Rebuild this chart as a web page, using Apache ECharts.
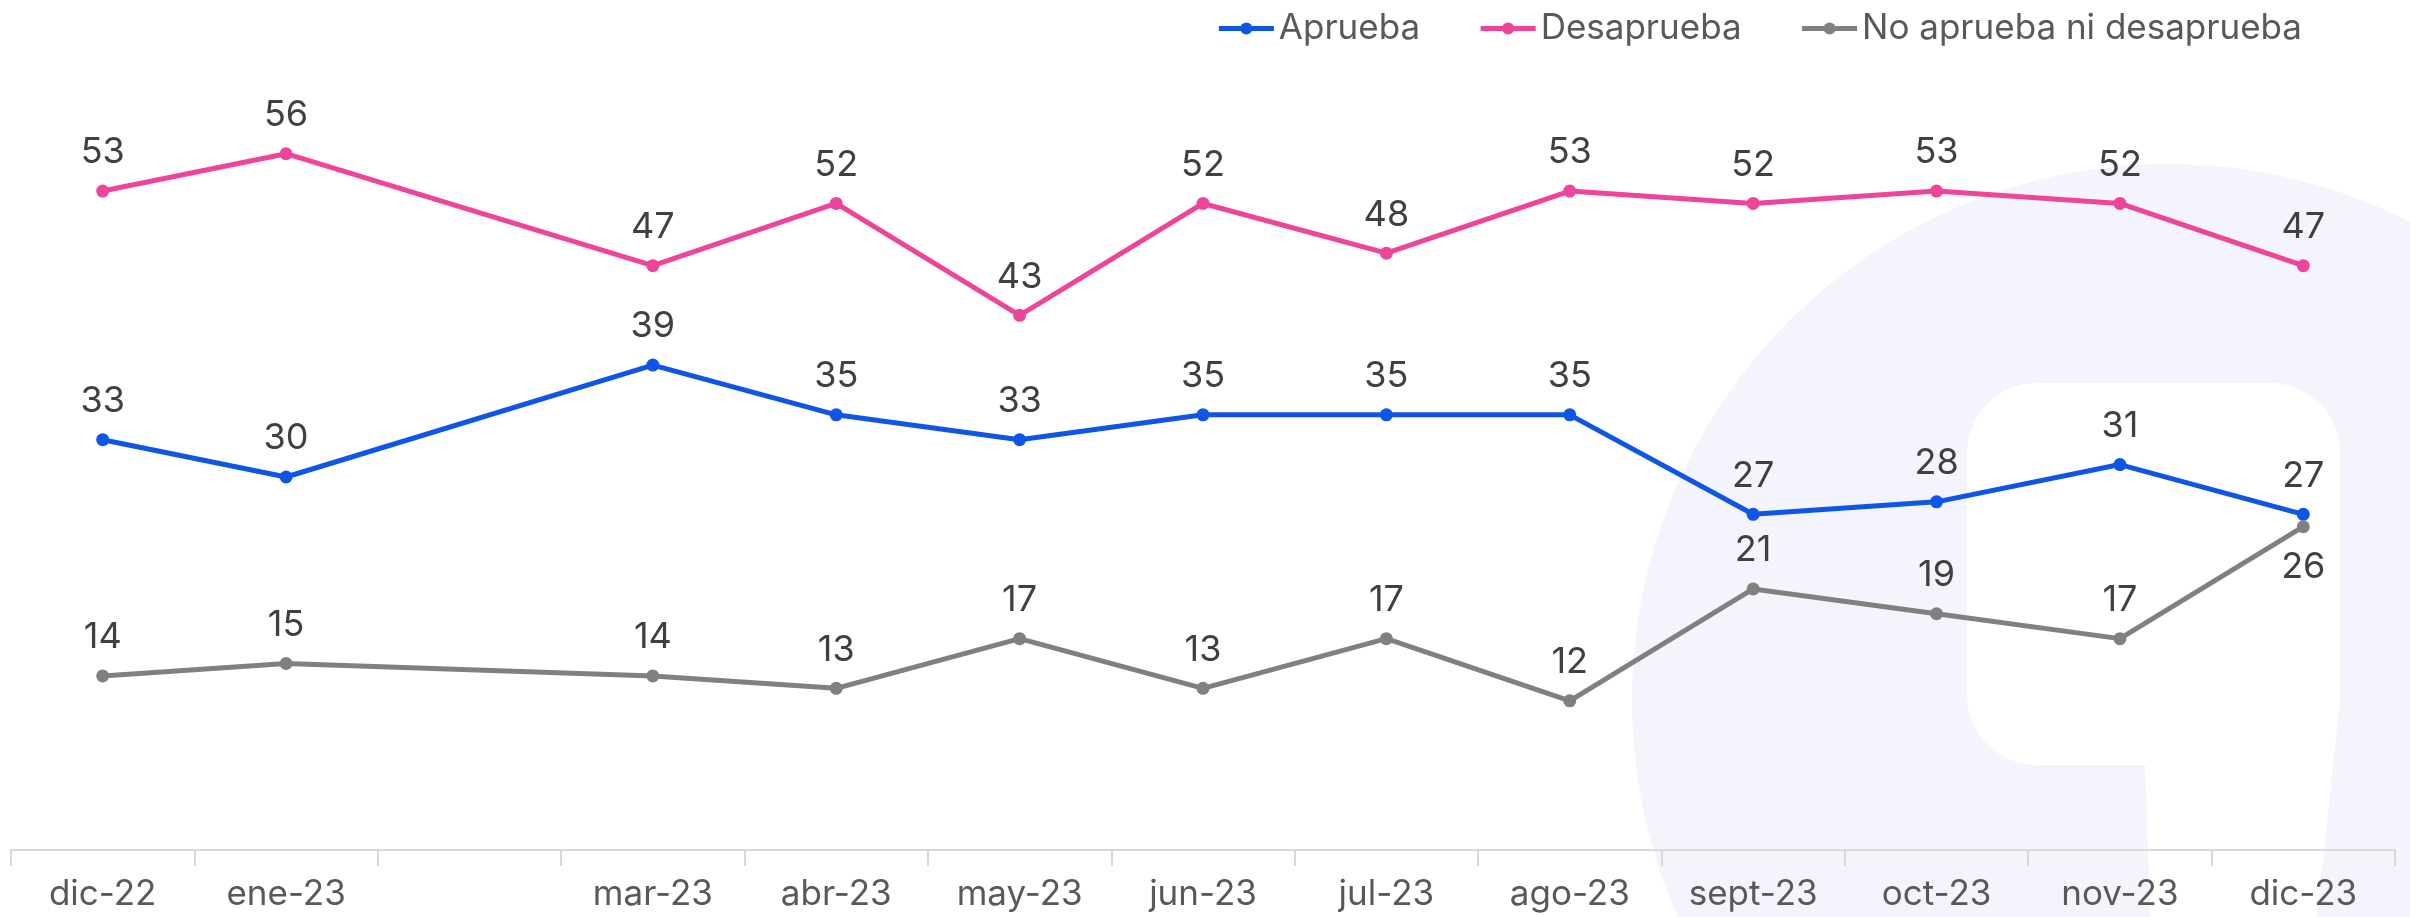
<!DOCTYPE html>
<html>
<head>
<meta charset="utf-8">
<script src="https://cdn.jsdelivr.net/npm/echarts@6/dist/echarts.min.js"></script>
<style>
  html, body { margin: 0; padding: 0; background: #fff; }
  #chart { width: 2410px; height: 917px; }
</style>
</head>
<body>
<div id="chart"></div>
<script>
// months (feb-23 missing in the source, left as an empty slot)
const months = ['dic-22', 'ene-23', '', 'mar-23', 'abr-23', 'may-23', 'jun-23', 'jul-23', 'ago-23', 'sept-23', 'oct-23', 'nov-23', 'dic-23']

const aprueba = [33, 30, null, 39, 35, 33, 35, 35, 35, 27, 28, 31, 27]
const desaprueba = [53, 56, null, 47, 52, 43, 52, 48, 53, 52, 53, 52, 47]
const neutral = [14, 15, null, 14, 13, 17, 13, 17, 12, 21, 19, 17, 26]

const FONT = 'Inter'
const chart = echarts.init(document.getElementById('chart'))

const lineSeries = (name, data, color) => ({
  name,
  type: 'line',
  data,
  connectNulls: true,
  symbol: 'circle',
  symbolSize: 13,
  lineStyle: { width: 5, color },
  itemStyle: { color },
  label: {
    show: true,
    position: 'top',
    distance: 14,
    color: '#404040',
    fontFamily: FONT,
    fontSize: 36
  },
  z: 3
})

const grayLine = lineSeries('No aprueba ni desaprueba', neutral, '#808080')
// last value sits on the blue point, so its label goes underneath
grayLine.data = neutral.map((v, i) => i === neutral.length - 1
  ? { value: v, label: { position: 'bottom', distance: 16 } }
  : v)

const option = {
  backgroundColor: '#ffffff',
  animation: false,
  graphic: [
    {
      type: 'circle',
      shape: { cx: 2168, cy: 700, r: 536 },
      style: { fill: '#F3F4FC' },
      silent: true,
      z: -10
    },
    {
      type: 'rect',
      shape: { x: 1967, y: 383, width: 373, height: 382, r: 70 },
      style: { fill: '#ffffff' },
      silent: true,
      z: -9
    },
    {
      type: 'polygon',
      shape: { points: [[2143, 700], [2340, 700], [2317, 917], [2150, 917]] },
      style: { fill: '#ffffff' },
      silent: true,
      z: -9
    }
  ],
  legend: {
    top: 6,
    right: 103,
    itemWidth: 55,
    itemHeight: 15,
    itemGap: 58,
    lineStyle: { width: 5 },
    textStyle: { color: '#595959', fontFamily: FONT, fontSize: 35 },
    data: ['Aprueba', 'Desaprueba', 'No aprueba ni desaprueba']
  },
  grid: {
    left: 11,
    right: 15,
    top: 104,
    bottom: 67
  },
  xAxis: {
    type: 'category',
    data: months,
    boundaryGap: true,
    axisLine: { lineStyle: { color: '#D9D9D9', width: 2 } },
    axisTick: { show: true, length: 16, lineStyle: { color: '#D9D9D9', width: 2 } },
    axisLabel: {
      color: '#595959',
      fontFamily: FONT,
      fontSize: 35,
      margin: 27,
      interval: 0
    }
  },
  yAxis: {
    type: 'value',
    min: 0,
    max: 60,
    show: false
  },
  series: [
    lineSeries('Aprueba', aprueba, '#0F56E6'),
    lineSeries('Desaprueba', desaprueba, '#EE4499'),
    grayLine
  ]
}

chart.setOption(option)
</script>
</body>
</html>
